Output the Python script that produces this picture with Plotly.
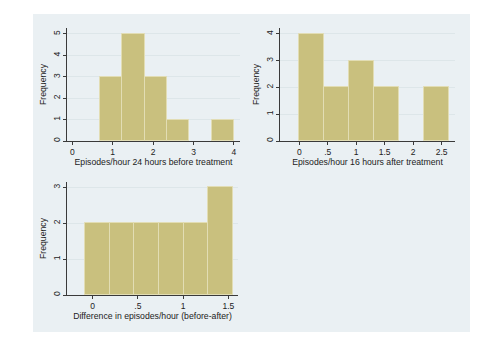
import plotly.graph_objects as go

# Histogram bin edges and frequencies for each measure
before_edges = [0.69, 1.24, 1.79, 2.34, 2.90, 3.45, 4.0]
before_counts = [3, 5, 3, 1, 0, 1]

after_edges = [0.0, 0.44, 0.875, 1.31, 1.75, 2.19, 2.625]
after_counts = [4, 2, 3, 2, 0, 2]

diff_edges = [-0.085, 0.188, 0.461, 0.734, 1.007, 1.28, 1.553]
diff_counts = [2, 2, 2, 2, 2, 3]

before_ticks = [0, 1, 2, 3, 4]
before_ticktext = ["0", "1", "2", "3", "4"]
after_ticks = [0, 0.5, 1, 1.5, 2, 2.5]
after_ticktext = ["0", ".5", "1", "1.5", "2", "2.5"]
diff_ticks = [0, 0.5, 1, 1.5]
diff_ticktext = ["0", ".5", "1", "1.5"]

W, H = 493, 343
BAR = "#C9C07E"
BAR_EDGE = "#E2DDB4"
BG = "#EAF0F3"
GRID = "#DDE6E9"
AX = "#3A3A3A"
FONT = "Arial, Liberation Sans, sans-serif"


def px_x(a, b):
    return [a / W, b / W]


def px_y(top, bottom):
    return [1 - bottom / H, 1 - top / H]


def hist_bar(edges, counts, xa, ya):
    centers = [(edges[i] + edges[i + 1]) / 2 for i in range(len(counts))]
    widths = [edges[i + 1] - edges[i] for i in range(len(counts))]
    # empty bins get no outline so nothing is drawn for them
    line_w = [1 if c > 0 else 0 for c in counts]
    return go.Bar(
        x=centers, y=counts, width=widths, xaxis=xa, yaxis=ya,
        marker=dict(color=BAR, line=dict(color=BAR_EDGE, width=line_w)),
        showlegend=False, hoverinfo="x+y",
    )


fig = go.Figure()
fig.add_trace(hist_bar(before_edges, before_counts, "x", "y"))
fig.add_trace(hist_bar(after_edges, after_counts, "x2", "y2"))
fig.add_trace(hist_bar(diff_edges, diff_counts, "x3", "y3"))

tickfont = dict(family=FONT, size=8.5, color="#222222")
titlefont = dict(family=FONT, size=8.7, color="#222222")


def xaxis(dom, rng, tv, tt, title, anchor):
    return dict(
        domain=dom, range=rng, anchor=anchor, tickvals=tv, ticktext=tt,
        showline=True, linecolor=AX, linewidth=1, ticks="outside", ticklen=3,
        tickcolor=AX, tickfont=tickfont, showgrid=False, zeroline=False,
        title=dict(text=title, font=titlefont, standoff=0), automargin=False,
    )


def yaxis(dom, rng, tv, anchor):
    return dict(
        domain=dom, range=rng, anchor=anchor, tickvals=tv,
        ticktext=[str(v) for v in tv], tickangle=-90,
        showline=True, linecolor=AX, linewidth=1, ticks="outside", ticklen=3,
        tickcolor=AX, tickfont=tickfont, showgrid=True, gridcolor=GRID,
        gridwidth=1, zeroline=False,
        title=dict(text="Frequency", font=titlefont, standoff=3), automargin=False,
    )


fig.update_layout(
    width=W, height=H,
    margin=dict(l=0, r=0, t=0, b=0),
    paper_bgcolor="white", plot_bgcolor="white",
    bargap=0, font=dict(family=FONT),
    xaxis=xaxis(px_x(67, 240), [-0.131, 4.15], before_ticks, before_ticktext,
                "Episodes/hour 24 hours before treatment", "y"),
    yaxis=yaxis(px_y(28, 141), [0, 5.28], [0, 1, 2, 3, 4, 5], "x"),
    xaxis2=xaxis(px_x(280, 455), [-0.339, 2.736], after_ticks, after_ticktext,
                 "Episodes/hour 16 hours after treatment", "y2"),
    yaxis2=yaxis(px_y(28, 141), [0, 4.22], [0, 1, 2, 3, 4], "x2"),
    xaxis3=xaxis(px_x(67, 238), [-0.284, 1.607], diff_ticks, diff_ticktext,
                 "Difference in episodes/hour (before-after)", "y3"),
    yaxis3=yaxis(px_y(182, 295), [0, 3.15], [0, 1, 2, 3], "x3"),
    shapes=[dict(type="rect", xref="paper", yref="paper", layer="below",
                 x0=33 / W, x1=470 / W, y0=1 - 332 / H, y1=1 - 14 / H,
                 fillcolor=BG, line=dict(width=0))],
)

fig.write_html("out.html")
